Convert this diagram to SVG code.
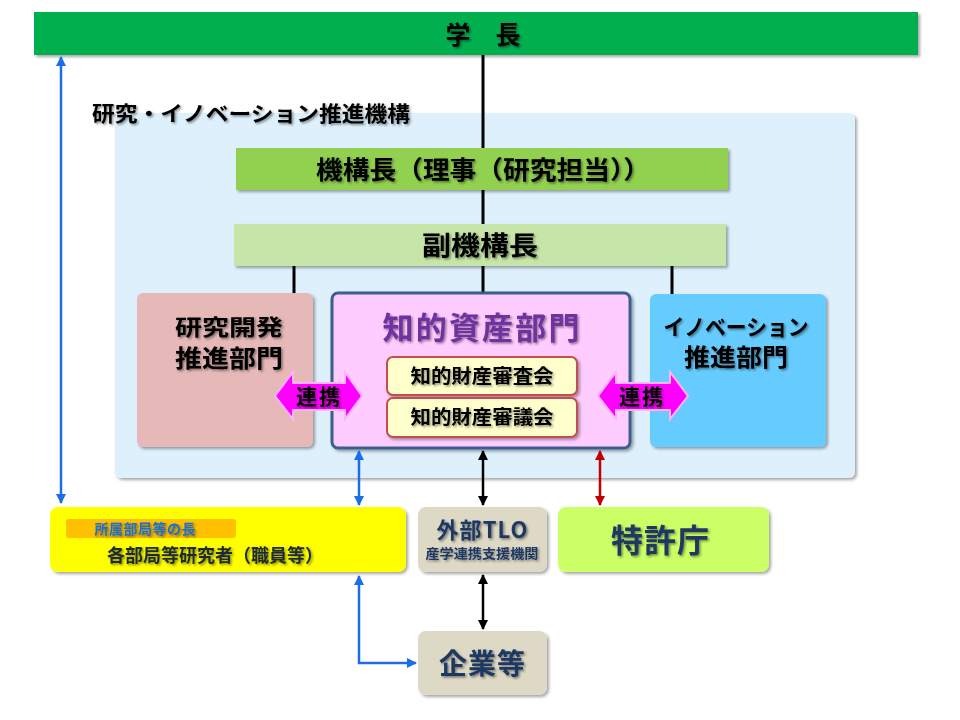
<svg xmlns="http://www.w3.org/2000/svg" width="960" height="720" viewBox="0 0 960 720">
<defs>
<filter id="bs" x="-10%" y="-10%" width="120%" height="130%"><feDropShadow dx="2" dy="2" stdDeviation="1.5" flood-color="#000" flood-opacity="0.35"/></filter>
<filter id="ts" x="-10%" y="-20%" width="120%" height="150%"><feDropShadow dx="1.5" dy="1.5" stdDeviation="0.8" flood-color="#000" flood-opacity="0.45"/></filter>
<marker id="ab" viewBox="0 0 10 10" refX="9" refY="5" markerWidth="4" markerHeight="4" orient="auto-start-reverse" markerUnits="strokeWidth"><path d="M0,0L10,5L0,10z" fill="#1A6FE8"/></marker>
<marker id="ak" viewBox="0 0 10 10" refX="9" refY="5" markerWidth="4" markerHeight="4" orient="auto-start-reverse" markerUnits="strokeWidth"><path d="M0,0L10,5L0,10z" fill="#000"/></marker>
<marker id="ar" viewBox="0 0 10 10" refX="9" refY="5" markerWidth="4" markerHeight="4" orient="auto-start-reverse" markerUnits="strokeWidth"><path d="M0,0L10,5L0,10z" fill="#C00000"/></marker>
</defs>
<style>
text{font-family:"Noto Sans CJK JP","Noto Sans",sans-serif;font-weight:bold;text-anchor:middle;filter:url(#ts)}
.k{fill:#000}
.n{fill:#1F3864}
.box{filter:url(#bs)}
.ln{stroke:#000;stroke-width:3;fill:none}
.cb{stroke:#1A6FE8;stroke-width:2.5;fill:none;marker-start:url(#ab);marker-end:url(#ab)}
.ck{stroke:#000;stroke-width:2.5;fill:none;marker-start:url(#ak);marker-end:url(#ak)}
.cr{stroke:#C00000;stroke-width:2.5;fill:none;marker-start:url(#ar);marker-end:url(#ar)}
.lk{fill:#FF00FF;stroke:#FFB3FF;stroke-width:2}
</style>
<rect width="960" height="720" fill="#fff"/>
<g id="org">
<rect class="box" x="115" y="113" width="740" height="365" rx="6" fill="#DDF0FC"/>
<text x="92" y="121" font-size="21" textLength="318" lengthAdjust="spacingAndGlyphs" style="text-anchor:start" class="k">研究・イノベーション推進機構</text>
</g>
<g id="tree-lines">
<path class="ln" d="M483,55V293M294,266V293M672,266V294"/>
</g>
<g id="president">
<rect class="box" x="34" y="12" width="884" height="43" fill="#00B050"/>
<text x="483" y="44" font-size="25" class="k">学　長</text>
</g>
<g id="director">
<rect class="box" x="236" y="148" width="492" height="42" fill="#92D050"/>
<text x="483" y="179" font-size="25" textLength="334" lengthAdjust="spacingAndGlyphs" class="k">機構長（理事（研究担当））</text>
</g>
<g id="vice">
<rect class="box" x="234" y="224" width="492" height="42" fill="#C6E5A8"/>
<text x="480" y="255" font-size="26" textLength="116" lengthAdjust="spacingAndGlyphs" class="k">副機構長</text>
</g>
<g id="rd">
<rect class="box" x="137" y="293" width="176" height="154" rx="6" fill="#E6B8B7"/>
<text x="229" y="335" font-size="22" textLength="108" lengthAdjust="spacingAndGlyphs" class="k">研究開発</text>
<text x="229" y="367" font-size="24" textLength="108" lengthAdjust="spacingAndGlyphs" class="k">推進部門</text>
</g>
<g id="ip">
<rect class="box" x="332" y="293" width="298" height="155" rx="6" fill="#FFCCFF" stroke="#3B5E8C" stroke-width="3"/>
<text x="481" y="339" font-size="31" textLength="197" fill="#7030A0">知的資産部門</text>
<g id="ip-review">
<rect class="box" x="387" y="357" width="190" height="38" rx="6" fill="#FFFFCC" stroke="#C0504D" stroke-width="2"/>
<text x="482" y="383" font-size="19" textLength="143" lengthAdjust="spacingAndGlyphs" class="k">知的財産審査会</text>
</g>
<g id="ip-council">
<rect class="box" x="387" y="398" width="190" height="39" rx="6" fill="#FFFFCC" stroke="#C0504D" stroke-width="2"/>
<text x="482" y="424" font-size="19" textLength="143" lengthAdjust="spacingAndGlyphs" class="k">知的財産審議会</text>
</g>
</g>
<g id="innov">
<rect class="box" x="650" y="294" width="176" height="153" rx="6" fill="#66CCFF"/>
<text x="736" y="335" font-size="22" textLength="145" lengthAdjust="spacingAndGlyphs" class="k">イノベーション</text>
<text x="736" y="366" font-size="24" textLength="104" lengthAdjust="spacingAndGlyphs" class="k">推進部門</text>
</g>
<g id="link-left">
<polygon class="lk" points="275,396 293,372 293,383 345,383 345,372 362,396 345,419 345,410 293,410 293,419"/>
<text x="318" y="404" font-size="21" textLength="44" class="k">連携</text>
</g>
<g id="link-right">
<polygon class="lk" points="598,396 616,372 616,383 670,383 670,372 688,396 670,419 670,410 616,410 616,419"/>
<text x="641" y="404" font-size="21" textLength="44" class="k">連携</text>
</g>
<g id="researchers">
<rect class="box" x="50" y="507" width="356" height="65" rx="8" fill="#FFFF00"/>
<rect x="66" y="519" width="170" height="19" rx="3" fill="#FFC000"/>
<text x="145" y="534" font-size="14" textLength="101" fill="#1F6FD0">所属部局等の長</text>
<text x="215" y="562" font-size="18" textLength="216" fill="#1F2A33">各部局等研究者（職員等）</text>
</g>
<g id="tlo">
<rect class="box" x="418" y="507" width="129" height="65" rx="8" fill="#DDD9C4"/>
<text x="482" y="538" font-size="22" textLength="91" class="n">外部TLO</text>
<text x="482" y="558" font-size="13" textLength="113" lengthAdjust="spacingAndGlyphs" class="n">産学連携支援機関</text>
</g>
<g id="jpo">
<rect class="box" x="558" y="507" width="211" height="65" rx="8" fill="#CCFF66"/>
<text x="660" y="552" font-size="32" textLength="98" class="n">特許庁</text>
</g>
<g id="companies">
<rect class="box" x="418" y="631" width="129" height="64" rx="8" fill="#DDD9C4"/>
<text x="482" y="674" font-size="28" textLength="86" class="n">企業等</text>
</g>
<g id="connectors">
<path class="cb" d="M61,57V503"/>
<path class="cb" d="M359,451V505"/>
<path class="ck" d="M483,451V505"/>
<path class="cr" d="M600,451V505"/>
<path class="cb" d="M359,576V663H416"/>
<path class="ck" d="M483,575V629"/>
</g>
</svg>
